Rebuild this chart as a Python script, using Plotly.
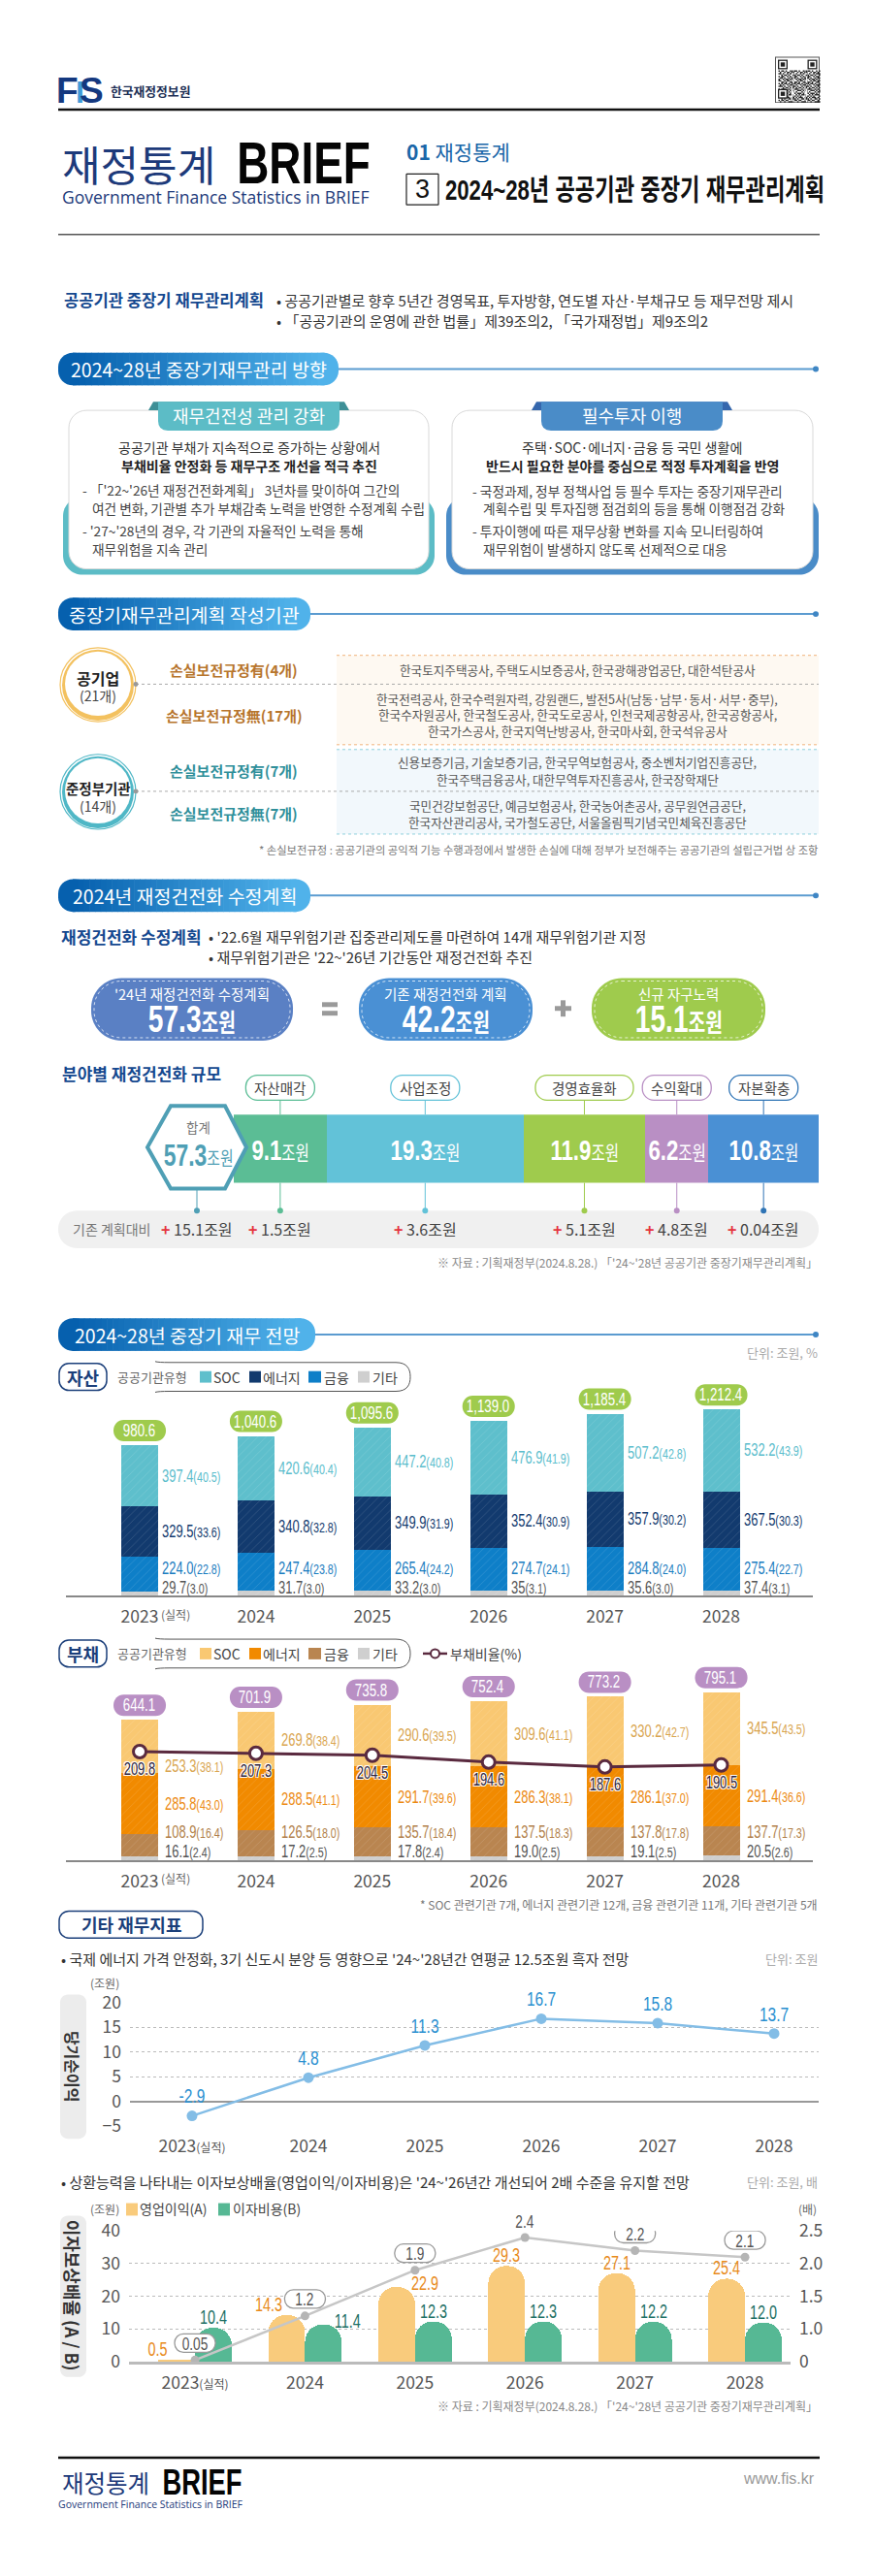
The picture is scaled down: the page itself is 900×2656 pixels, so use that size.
import plotly.graph_objects as go

# ---------- DATA ----------
years = ["2023", "2024", "2025", "2026", "2027", "2028"]

plan_names = ["자산매각", "사업조정", "경영효율화", "수익확대", "자본확충"]
plan_values = [9.1, 19.3, 11.9, 6.2, 10.8]
plan_total = 57.3
plan_changes = ["1.5", "3.6", "5.1", "4.8", "0.04"]

asset_total = [980.6, 1040.6, 1095.6, 1139.0, 1185.4, 1212.4]
asset_soc = [397.4, 420.6, 447.2, 476.9, 507.2, 532.2]
asset_soc_pct = [40.5, 40.4, 40.8, 41.9, 42.8, 43.9]
asset_energy = [329.5, 340.8, 349.9, 352.4, 357.9, 367.5]
asset_energy_pct = [33.6, 32.8, 31.9, 30.9, 30.2, 30.3]
asset_fin = [224.0, 247.4, 265.4, 274.7, 284.8, 275.4]
asset_fin_pct = [22.8, 23.8, 24.2, 24.1, 24.0, 22.7]
asset_etc = [29.7, 31.7, 33.2, 35, 35.6, 37.4]
asset_etc_pct = [3.0, 3.0, 3.0, 3.1, 3.0, 3.1]

debt_total = [644.1, 701.9, 735.8, 752.4, 773.2, 795.1]
debt_soc = [253.3, 269.8, 290.6, 309.6, 330.2, 345.5]
debt_soc_pct = [38.1, 38.4, 39.5, 41.1, 42.7, 43.5]
debt_energy = [285.8, 288.5, 291.7, 286.3, 286.1, 291.4]
debt_energy_pct = [43.0, 41.1, 39.6, 38.1, 37.0, 36.6]
debt_fin = [108.9, 126.5, 135.7, 137.5, 137.8, 137.7]
debt_fin_pct = [16.4, 18.0, 18.4, 18.3, 17.8, 17.3]
debt_etc = [16.1, 17.2, 17.8, 19.0, 19.1, 20.5]
debt_etc_pct = [2.4, 2.5, 2.4, 2.5, 2.5, 2.6]
debt_ratio = [209.8, 207.3, 204.5, 194.6, 187.6, 190.5]

net_income = [-2.9, 4.8, 11.3, 16.7, 15.8, 13.7]
op_income = [0.5, 14.3, 22.9, 29.3, 27.1, 25.4]
interest_cost = [10.4, 11.4, 12.3, 12.3, 12.2, 12.0]
coverage = [0.05, 1.2, 1.9, 2.4, 2.2, 2.1]
coverage_labels = ["0.05", "1.2", "1.9", "2.4", "2.2", "2.1"]

qr_rows = [
    "10110100101", "01001011010", "11010010111", "00101101001", "10110010110", "01101001011",
    "10010110100", "11001011011", "00110100110", "10101101001", "01010010111", "11101001010",
    "00010110101", "10111001010", "01001110101", "11010001011", "00101110100", "10010101110",
    "01101010001", "11010111010", "00101001101", "10110110010", "01001001111",
]

# ---------- STYLE ----------
KR = "Noto Sans CJK KR, Noto Sans, sans-serif"
# "Cond" is not a real font: it marks the texts that the page script squeezes horizontally
COND = "Cond, Liberation Sans, Noto Sans CJK KR, sans-serif"
COND_L = "Cond, Liberation Sans, sans-serif"
NAVY, BLUE = "#1b3f7a", "#14488f"
W, H = 900, 2656

shapes, ann = [], []
fig = go.Figure()


def T(text, x, y, size=13, color="#333", anchor="center", bold=False, font=KR, xref="x", yref="y",
      angle=0, xshift=0, yshift=0, shadow=None):
    f = dict(size=size, color=color, family=font, weight=700 if bold else 400)
    if shadow:
        f["shadow"] = shadow
    ann.append(dict(text=text, x=x, y=y, xref=xref, yref=yref, xanchor=anchor, yanchor="middle",
                    showarrow=False, font=f, borderpad=0, textangle=angle, xshift=xshift, yshift=yshift,
                    align=anchor if anchor != "center" else "center"))


def rr_path(x0, y0, x1, y1, r):
    k = r * 0.45
    return (f"M {x0+r} {y0} L {x1-r} {y0} C {x1-k} {y0} {x1} {y0+k if y1>y0 else y0-k} {x1} {y0+r if y1>y0 else y0-r} "
            f"L {x1} {y1-r if y1>y0 else y1+r} C {x1} {y1-k if y1>y0 else y1+k} {x1-k} {y1} {x1-r} {y1} "
            f"L {x0+r} {y1} C {x0+k} {y1} {x0} {y1-k if y1>y0 else y1+k} {x0} {y1-r if y1>y0 else y1+r} "
            f"L {x0} {y0+r if y1>y0 else y0-r} C {x0} {y0+k if y1>y0 else y0-k} {x0+k} {y0} {x0+r} {y0} Z")


def RR(x0, y0, x1, y1, r, fill="rgba(0,0,0,0)", line=None, width=1, dash=None, layer="below", **kw):
    s = dict(type="path", path=rr_path(x0, y0, x1, y1, r), fillcolor=fill, xref="x", yref="y", layer=layer,
             line=dict(color=line or "rgba(0,0,0,0)", width=width if line else 0, dash=dash or "solid"))
    s.update(kw)
    shapes.append(s)


def RECT(x0, y0, x1, y1, fill, layer="below"):
    shapes.append(dict(type="rect", x0=x0, y0=y0, x1=x1, y1=y1, xref="x", yref="y", fillcolor=fill,
                       line=dict(width=0), layer=layer))


def LINE(x0, y0, x1, y1, color, width=1, dash="solid", xref="x", yref="y", layer="below"):
    shapes.append(dict(type="line", x0=x0, y0=y0, x1=x1, y1=y1, xref=xref, yref=yref,
                       line=dict(color=color, width=width, dash=dash), layer=layer))


def DOT(cx, cy, r, color, xref="x", yref="y", layer="below"):
    shapes.append(dict(type="circle", x0=cx - r, x1=cx + r, y0=cy - r, y1=cy + r, xref=xref, yref=yref,
                       fillcolor=color, line=dict(width=0), layer=layer))


def ELL(x0, y0, x1, y1, fill, line=None, width=0):
    shapes.append(dict(type="circle", x0=x0, x1=x1, y0=y0, y1=y1, xref="x", yref="y", fillcolor=fill,
                       line=dict(color=line or "rgba(0,0,0,0)", width=width), layer="below"))


def section(x0, x1, y0, text):
    """Gradient title pill with its rule and end dot."""
    y1, r = y0 + 34, 15
    c0, c1 = (6, 96, 174), (80, 178, 234)
    n = 40
    LINE(x1, y0 + 17, 842, y0 + 17, "#5b9bd0", 2)
    DOT(841, y0 + 17, 3, "#3f86c4")
    RR(x0, y0, x0 + 2 * r + 2, y1, r, fill=f"rgb{c0}")
    RR(x1 - 2 * r - 2, y0, x1, y1, r, fill=f"rgb{c1}")
    step = (x1 - x0 - 2 * r) / n
    for i in range(n):
        t = i / (n - 1)
        col = tuple(round(a + (b - a) * t) for a, b in zip(c0, c1))
        RECT(x0 + r + i * step, y0, x0 + r + (i + 1) * step + 0.6, y1, f"rgb{col}")
    T(text, (x0 + x1) / 2, y0 + 17, 19.5, "white", bold=False)


# ---------- HEADER ----------
T("F", 69, 80, 37, "#14387f", bold=True, font="Liberation Sans, sans-serif")
T("I", 82, 82, 32, "#3f9bd8", bold=True, font="Liberation Sans, sans-serif")
T("S", 94, 80, 37, "#14387f", bold=True, font="Liberation Sans, sans-serif")
T("한국재정정보원", 155, 80, 12.8, "#1d2f55", bold=True)
# QR block
RECT(799, 45, 845, 93, "#555")
RECT(800, 46, 844, 92, "white")
qm = 1.5
qpath = ""
for j, row in enumerate(qr_rows):
    for rep in range(3):
        for i, ch in enumerate(row):
            if ch == "1":
                xx, yy = 802.5 + (i + rep * 9.3) * qm * 0.97, 59 + j * qm * 0.97
                qpath += f"M {xx} {yy} L {xx+qm} {yy} L {xx+qm} {yy+qm} L {xx} {yy+qm} Z "
shapes.append(dict(type="path", path=qpath, fillcolor="#222", line=dict(width=0), xref="x", yref="y", layer="below"))
for fx, fy in [(802, 48), (832.5, 48), (802, 78.5)]:
    RECT(fx, fy, fx + 10, fy + 10, "#222")
    RECT(fx + 1.3, fy + 1.3, fx + 8.7, fy + 8.7, "white")
    RECT(fx + 2.8, fy + 2.8, fx + 7.2, fy + 7.2, "#222")

LINE(60, 100, 845, 100, "#111", 2.5)
T("재정통계", 143, 155, 43, "#1d3a7a")
T("BRIEF", 313, 155, 62, "#050505", bold=True, font=COND_L)
T("Government Finance Statistics in BRIEF", 222, 191, 17.5, "#1d3a7a", font="Open Sans, sans-serif")
T("<b>01</b> 재정통계", 472, 143, 21, "#1a66a8")
RR(419, 167, 452, 199, 0.5, fill="white", line="#222", width=1.2)
T("3", 435.5, 183, 27, "#111", font="Liberation Sans, sans-serif")
T("2024~28년 공공기관 중장기 재무관리계획", 654.5, 183, 30, "#111", bold=True, font=COND)
LINE(60, 230, 845, 230, "#555", 1.5)

T("공공기관 중장기 재무관리계획", 169, 298, 16.6, BLUE, bold=True)
T("• 공공기관별로 향후 5년간 경영목표, 투자방향, 연도별 자산·부채규모 등 재무전망 제시", 284, 298, 15, "#333", anchor="left")
T("• 「공공기관의 운영에 관한 법률」제39조의2, 「국가재정법」제9조의2", 284, 320, 15, "#333", anchor="left")

# ---------- SECTION 1 ----------
section(60, 349, 353, "2024~28년 중장기재무관리 방향")
for x0, x1, col, dark, tab, flap, title, c_lines, body in [
    (65, 448, "#5cbcc6", "#4aa7ae", (163, 350), "#3d8f96", "재무건전성 관리 강화",
     ["공공기관 부채가 지속적으로 증가하는 상황에서", "부채비율 안정화 등 재무구조 개선을 적극 추진"],
     [(84, 496, "- 「'22~'26년 재정건전화계획」 3년차를 맞이하여 그간의"),
      (94, 515, "여건 변화, 기관별 추가 부채감축 노력을 반영한 수정계획 수립"),
      (84, 538, "- '27~'28년의 경우, 각 기관의 자율적인 노력을 통해"),
      (94, 557, "재무위험을 지속 관리")]),
    (460, 844, "#4a8cc8", "#3f7db8", (558, 745), "#3567ad", "필수투자 이행",
     ["주택·SOC·에너지·금융 등 국민 생활에", "반드시 필요한 분야를 중심으로 적정 투자계획을 반영"],
     [(486, 497, "- 국정과제, 정부 정책사업 등 필수 투자는 중장기재무관리"),
      (497, 515, "계획수립 및 투자집행 점검회의 등을 통해 이행점검 강화"),
      (486, 538, "- 투자이행에 따른 재무상황 변화를 지속 모니터링하여"),
      (497, 557, "재무위험이 발생하지 않도록 선제적으로 대응")]),
]:
    RR(x0, 503, x1, 584, 20, fill=col)
    RR(x0 + 6, 413, x1 - 6, 578, 18, fill="white", line="#d9d9d9", width=1)
    tx0, tx1 = tab
    shapes.append(dict(type="path", xref="x", yref="y", layer="below", fillcolor=flap, line=dict(width=0),
                       path=f"M {tx0-10} 413 L {tx0-5} 404 L {tx1+5} 404 L {tx1+10} 413 L {tx1} 413 L {tx0} 413 Z"))
    shapes.append(dict(type="path", xref="x", yref="y", layer="below", fillcolor=col, line=dict(width=0),
                       path=f"M {tx0} 404 L {tx1} 404 L {tx1} 424 Q {tx1} 434 {tx1-10} 434 L {tx0+10} 434 Q {tx0} 434 {tx0} 424 Z"))
    cx = (tx0 + tx1) / 2
    T(title, cx, 418, 18, "white")
    T(c_lines[0], cx, 451, 14, "#333")
    T(c_lines[1], cx, 470, 14, "#222", bold=True)
    for bx, by, txt in body:
        T(txt, bx, by, 13.7, "#444", anchor="left")

# ---------- SECTION 2 ----------
section(60, 320, 608, "중장기재무관리계획 작성기관")
RECT(347, 668, 844, 761, "#fef9f2")
RECT(347, 766, 844, 854, "#f2f8fc")
LINE(347, 668, 844, 668, "#f0b27a", 1, "dot")
LINE(347, 761, 844, 761, "#f0b27a", 1, "dot")
LINE(347, 766, 844, 766, "#8fd0dc", 1, "dot")
LINE(347, 854, 844, 854, "#8fd0dc", 1, "dot")
LINE(140, 698, 844, 698, "#aaa", 1, "dot")
LINE(140, 809.5, 844, 809.5, "#aaa", 1, "dot")
for y0, y1, col, title, sub, ts in [(660, 737, "#f3c15f", "공기업", "(21개)", 16), (771, 849, "#4fb7c6", "준정부기관", "(14개)", 14.5)]:
    ELL(62, y0, 140, y1, "white", col, 1.2)
    ELL(64, y0 + 2, 138, y1 - 1, col)
    ELL(67, y0 + 4, 135, y1 - 6, "white")
    T(title, 101, y0 + 32 if ts > 15 else y0 + 35, ts, "#222", bold=True)
    T(sub, 101, y0 + 50 if ts > 15 else y0 + 54, 14, "#444")
DOT(140, 698, 2.5, "#999")
DOT(140, 809.5, 2.5, "#999")
for y, t, col in [(683, "손실보전규정有(4개)", "#b7752d"), (730, "손실보전규정無(17개)", "#b7752d"),
                  (788, "손실보전규정有(7개)", "#2f8f9a"), (832, "손실보전규정無(7개)", "#2f8f9a")]:
    T(t, 241, y, 15, col, bold=True)
for y, t in [(683, "한국토지주택공사, 주택도시보증공사, 한국광해광업공단, 대한석탄공사"),
             (713, "한국전력공사, 한국수력원자력, 강원랜드, 발전5사(남동·남부·동서·서부·중부),"),
             (729.5, "한국수자원공사, 한국철도공사, 한국도로공사, 인천국제공항공사, 한국공항공사,"),
             (747, "한국가스공사, 한국지역난방공사, 한국마사회, 한국석유공사"),
             (779, "신용보증기금, 기술보증기금, 한국무역보험공사, 중소벤처기업진흥공단,"),
             (797, "한국주택금융공사, 대한무역투자진흥공사, 한국장학재단"),
             (824, "국민건강보험공단, 예금보험공사, 한국농어촌공사, 공무원연금공단,"),
             (841, "한국자산관리공사, 국가철도공단, 서울올림픽기념국민체육진흥공단")]:
    T(t, 595, y, 12.6, "#555")
T("* 손실보전규정 : 공공기관의 공익적 기능 수행과정에서 발생한 손실에 대해 정부가 보전해주는 공공기관의 설립근거법 상 조항",
  844, 870, 11.3, "#777", anchor="right")

# ---------- SECTION 3 ----------
section(60, 320, 901, "2024년 재정건전화 수정계획")
T("재정건전화 수정계획", 135, 961, 17, BLUE, bold=True)
T("• '22.6월 재무위험기관 집중관리제도를 마련하여 14개 재무위험기관 지정", 214, 961, 15, "#333", anchor="left")
T("• 재무위험기관은 '22~'26년 기간동안 재정건전화 추진", 214, 982, 15, "#333", anchor="left")
for x0, x1, col, head, val in [(94, 302, "#5a80c4", "'24년 재정건전화 수정계획", "57.3"),
                               (370, 549, "#4a90d4", "기존 재정건전화 계획", "42.2"),
                               (610, 789, "#9fcb4d", "신규 자구노력", "15.1")]:
    RR(x0, 1004, x1, 1069, 31, fill=col)
    RR(x0 + 3, 1007, x1 - 3, 1066, 28, line="rgba(255,255,255,.75)", width=1, dash="dot")
    c = (x0 + x1) / 2
    T(head, c, 1020, 14.5, "white")
    T(f"{val}<span style='font-size:26px'>조원</span>", c, 1047, 38, "white", bold=True, font=COND)
RECT(332, 1029, 348, 1034, "#9a9a9a")
RECT(332, 1038, 348, 1043, "#9a9a9a")
RECT(572, 1033, 589, 1038, "#9a9a9a")
RECT(578, 1027, 583, 1044, "#9a9a9a")

T("분야별 재정건전화 규모", 146, 1103, 17, BLUE, bold=True)
plan_colors = ["#5bbd95", "#62c2d8", "#9fcb4d", "#b98fc4", "#4a90d4"]
plan_edge = ["#5bbd95", "#62c2d8", "#9fcb4d", "#b98fc4", "#2f74b5"]
plan_pill = [71, 71, 101, 71, 71]
for n, v, c in zip(plan_names, plan_values, plan_colors):
    fig.add_trace(go.Bar(y=[0], x=[v], name=n, orientation="h", width=1, marker=dict(color=c, line=dict(width=0)),
                         xaxis="x2", yaxis="y2", hoverinfo="skip", showlegend=False))
RR(60, 1246, 844, 1285, 19, fill="#f0f0f0")
cum = 0
for n, v, c, e, w, ch in zip(plan_names, plan_values, plan_colors, plan_edge, plan_pill, plan_changes):
    mid = cum + v / 2
    cum += v
    LINE(mid, 1131, mid, 1146, e, 1, xref="x2")
    LINE(mid, 1217, mid, 1246, e, 1, xref="x2")
    DOT(0, 1246, 3, e, layer="above")
    shapes[-1].update(xref="x2", xsizemode="pixel", xanchor=mid, x0=-3, x1=3)
    RR(-w / 2, 1105, w / 2, 1131, 12, fill="white", line=e, width=1.3, xref="x2", xsizemode="pixel", xanchor=mid)
    T(n, mid, 1118, 14.5, "#444", xref="x2")
    T(f"{v}<span style='font-size:21px;font-weight:400'>조원</span>", mid, 1183, 30, "white", bold=True, xref="x2", font=COND)
    T(f"<span style='color:#e5343d'><b>+</b></span> {ch}조원", mid, 1265, 16, "#444", xref="x2")
LINE(203, 1224, 203, 1246, "#4f9fb5", 1)
DOT(203, 1246, 3, "#4f9fb5", layer="above")
shapes.append(dict(type="path", xref="x", yref="y", layer="above", fillcolor="white",
                   line=dict(color="#4f9fb5", width=4),
                   path="M 152 1180 L 176 1137 L 232 1137 L 254 1180 L 232 1223 L 176 1223 Z"))
T("합계", 204, 1159, 13.5, "#777")
T(f"{plan_total}<span style='font-size:20px;font-weight:400'>조원</span>", 204, 1189, 31, "#4f9fb5", bold=True, font=COND)
T("기존 계획대비", 115, 1265, 14, "#777")
T("<span style='color:#e5343d'><b>+</b></span> 15.1조원", 203, 1265, 16, "#444")
SRC = "※ 자료 : 기획재정부(2024.8.28.) 「'24~'28년 공공기관 중장기재무관리계획」"
T(SRC, 844, 1300, 12, "#888", anchor="right")

# ---------- SECTION 4 ----------
section(60, 325, 1358, "2024~28년 중장기 재무 전망")
T("단위: 조원, %", 844, 1394, 13, "#aaa", anchor="right")


def legend_row(yc, badge, colors):
    RR(61, yc - 14, 110, yc + 14, 10, fill="white", line=NAVY, width=1.5)
    T(badge, 85.5, yc, 18, NAVY, bold=True)
    shapes.append(dict(type="path", xref="x", yref="y", layer="below", fillcolor="rgba(0,0,0,0)",
                       line=dict(color="#555", width=1),
                       path=f"M 160 {yc-16} Q 163 {yc-15} 175 {yc-15} L 408 {yc-15} C 420 {yc-15} 423 {yc-8} 423 {yc} "
                            f"C 423 {yc+8} 420 {yc+15} 408 {yc+15} L 175 {yc+15} Q 163 {yc+15} 160 {yc+16}"))
    T("공공기관유형", 157, yc, 13, "#666")
    for sx, sw, tx, name, col in zip([206, 257, 318, 369], [12, 12, 13, 12], [233.5, 290, 346.5, 397],
                                     ["SOC", "에너지", "금융", "기타"], colors):
        RECT(sx, yc - 6, sx + sw, yc + 6, col)
        T(name, tx, yc, 14, "#444")


def stacked(series, pcts, colors, lab_colors, xa, ya, totals, pill_col, xshift, px_per_unit, label_shift):
    for vals, col in zip(series, colors):
        fig.add_trace(go.Bar(x=list(range(6)), y=vals, width=0.317, xaxis=xa, yaxis=ya, showlegend=False, hoverinfo="skip",
                             marker=dict(color=col, line=dict(width=0),
                                         pattern=dict(shape="/", fgcolor="rgba(255,255,255,.32)", bgcolor=col, size=6, solidity=0.12))))
    # lowest two labels keep a minimum height above the axis so that they never collide
    floors = [9, 29, 0, 0]
    for i in range(6):
        base = 0
        for k, (vals, ps, lc) in enumerate(zip(series, pcts, lab_colors)):
            v = vals[i]
            mid = base + v / 2
            base += v
            ys = max(0, floors[k] - mid * px_per_unit) + label_shift.get((k, i), 0)
            T(f"{v}<span style='font-size:14.5px'>({ps[i]})</span>", i + 0.1585, mid, 17.5, lc, anchor="left",
              font=COND, xref=xa, yref=ya, xshift=xshift, yshift=ys)
        RR(-27, 4, 27, 26, 10.5, fill=pill_col, xref=xa, yref=ya, xsizemode="pixel", ysizemode="pixel",
           xanchor=i, yanchor=base, layer="above")
        T(f"{totals[i]:,.1f}", i, base, 18, "white", font=COND, xref=xa, yref=ya, yshift=15, xshift=-1)


legend_row(1419, "자산", ["#5ebfcc", "#123a6e", "#0e7fc8", "#cfcfcf"])
stacked([asset_etc, asset_fin, asset_energy, asset_soc],
        [asset_etc_pct, asset_fin_pct, asset_energy_pct, asset_soc_pct],
        ["#cfcfcf", "#0e7fc8", "#123a6e", "#5ebfcc"], ["#555", "#1a7cc0", "#123a6e", "#5bbdcc"],
        "x3", "y3", asset_total, "#9fcb4d", 3, 0.16, {})
T("(실적)", 181, 1666, 12, "#666")

legend_row(1707, "부채", ["#f9c872", "#f18a00", "#b98550", "#cfcfcf"])
LINE(436, 1707, 461, 1707, "#5a2a3f", 2.5)
shapes.append(dict(type="circle", x0=444, x1=453, y0=1702.5, y1=1711.5, xref="x", yref="y", fillcolor="white",
                   line=dict(color="#5a2a3f", width=2), layer="below"))
T("부채비율(%)", 501, 1707, 14, "#444")
stacked([debt_etc, debt_fin, debt_energy, debt_soc],
        [debt_etc_pct, debt_fin_pct, debt_energy_pct, debt_soc_pct],
        ["#cfcfcf", "#b98550", "#f18a00", "#f9c872"], ["#555", "#b17f4a", "#ec8a12", "#d9a550"],
        "x4", "y4", debt_total, "#b98fc4", 6, 0.22, {(3, 0): -20})
fig.add_trace(go.Scatter(x=list(range(6)), y=debt_ratio, xaxis="x4", yaxis="y5", mode="lines+markers", showlegend=False,
                         hoverinfo="skip", cliponaxis=False, line=dict(color="#5a2a3f", width=3),
                         marker=dict(size=13, color="white", line=dict(color="#5a2a3f", width=3))))
WS = "-1px -1px 0 #fff, 1px -1px 0 #fff, -1px 1px 0 #fff, 1px 1px 0 #fff"
for i, r in enumerate(debt_ratio):
    T(f"{r}", i, r, 17.5, "#2d2440", font=COND, xref="x4", yref="y5", yshift=-18, shadow=WS)
T("(실적)", 181, 1941, 12, "#666")
T("* SOC 관련기관 7개, 에너지 관련기관 12개, 금융 관련기관 11개, 기타 관련기관 5개", 844, 1968, 12, "#777", anchor="right")

RR(61, 1975, 209, 2003, 10, fill="white", line=NAVY, width=1.5)
T("기타 재무지표", 135, 1989, 18, NAVY, bold=True)

# net income
T("• 국제 에너지 가격 안정화, 3기 신도시 분양 등 영향으로 '24~'28년간 연평균 12.5조원 흑자 전망", 62, 2025, 15, "#333", anchor="left")
T("단위: 조원", 844, 2025, 13, "#aaa", anchor="right")
T("(조원)", 108, 2050, 12, "#666")
RR(62, 2062, 89, 2212, 8, fill="#ececec")
T("당기순이익", 75, 2137, 16, "#333", bold=True, angle=90)
fig.add_trace(go.Scatter(x=list(range(6)), y=net_income, xaxis="x5", yaxis="y6", mode="lines+markers+text", showlegend=False,
                         hoverinfo="skip", cliponaxis=False, line=dict(color="#83bde6", width=2.5),
                         marker=dict(size=11, color="#83bde6"), text=[f"{v}" for v in net_income], textposition="top center",
                         textfont=dict(size=21, color="#2a8fd0", family=COND)))

# coverage
T("• 상환능력을 나타내는 이자보상배율(영업이익/이자비용)은 '24~'26년간 개선되어 2배 수준을 유지할 전망", 62, 2257, 15, "#333", anchor="left")
T("단위: 조원, 배", 844, 2257, 13, "#aaa", anchor="right")
T("(조원)", 108, 2285, 12, "#666")
T("(배)", 832, 2285, 12, "#666")
RECT(130, 2279, 142, 2292, "#f9cb7c")
T("영업이익(A)", 179, 2285, 14, "#444")
RECT(225, 2279, 237, 2292, "#56b894")
T("이자비용(B)", 275, 2285, 14, "#444")
RR(62, 2292, 89, 2460, 8, fill="#ececec")
T("이자보상배율 (A / B)", 75, 2375, 18, "#333", bold=True, angle=90)

bw = 0.334
fig.add_trace(go.Bar(x=[i - bw / 2 for i in range(6)], y=op_income, width=bw, xaxis="x6", yaxis="y7", showlegend=False,
                     hoverinfo="skip", marker=dict(color="#f9cb7c", cornerradius=18, line=dict(width=0))))
fig.add_trace(go.Bar(x=[i + bw / 2 for i in range(6)], y=interest_cost, width=bw, xaxis="x6", yaxis="y7", showlegend=False,
                     hoverinfo="skip", marker=dict(color="#56b894", cornerradius=18, line=dict(width=0))))
# the right-hand scale is broken below 1.0: 0 sits where 0.5 would be, so values under 1 are compressed
coverage_plot = [v if v >= 1 else 0.5 + v / 2 for v in coverage]
fig.add_trace(go.Scatter(x=list(range(6)), y=coverage_plot, xaxis="x6", yaxis="y8", mode="lines+markers", showlegend=False,
                         hoverinfo="skip", cliponaxis=False, line=dict(color="#c6c6c6", width=2.5),
                         marker=dict(size=9, color="#b5b5b5")))
op_shift = {0: (-20, 11), 1: (-19, 11), 2: (29, 4)}
int_shift = {1: (25, 4)}
for i in range(6):
    sx, sy = op_shift.get(i, (0, 11))
    T(f"{op_income[i]}", i - bw / 2, op_income[i], 19.5, "#e88a1a", font=COND, xref="x6", yref="y7", xshift=sx, yshift=sy)
    sx, sy = int_shift.get(i, (0, 11))
    T(f"{interest_cost[i]}", i + bw / 2, interest_cost[i], 19.5, "#1c6f64", font=COND, xref="x6", yref="y7", xshift=sx, yshift=sy)
    RR(-21, 8, 21, 27, 9, fill="white", line="#999", width=1.3, xref="x6", yref="y8", xsizemode="pixel", ysizemode="pixel",
       xanchor=i, yanchor=coverage_plot[i], layer="above")
    T(coverage_labels[i], i, coverage_plot[i], 18.5, "#555", font=COND, xref="x6", yref="y8", yshift=17)
T(SRC, 844, 2490, 12, "#888", anchor="right")

# ---------- FOOTER ----------
LINE(60, 2544, 845, 2544, "#111", 2.5)
T("재정통계", 109, 2570, 24.5, "#1d3a7a")
T("BRIEF", 208, 2570, 37, "#050505", bold=True, font=COND_L)
T("Government Finance Statistics in BRIEF", 155, 2592, 10.5, "#1d3a7a", font="Open Sans, sans-serif")
T("www.fis.kr", 841, 2566, 16, "#999", anchor="right", font="Liberation Sans, sans-serif")


# ---------- AXES ----------
def dx(a, b):
    return [a / W, b / W]


def dy(top, bottom):
    return [1 - bottom / H, 1 - top / H]


hidden = dict(visible=False, fixedrange=True)
TICK = dict(size=17.5, color="#555", family=KR)
tx = dict(tickmode="array", tickvals=list(range(6)), ticktext=years, tickfont=TICK, ticks="", showgrid=False,
          zeroline=False, fixedrange=True)
xl = dict(showline=True, linecolor="#888", linewidth=1.5, ticklabelstandoff=5)
span = "<span style='font-size:12px'>(실적)</span>"
yrs2 = [years[0] + span] + years[1:]

fig.update_layout(
    width=W, height=H, autosize=False, margin=dict(l=0, r=0, t=0, b=0), paper_bgcolor="white",
    plot_bgcolor="rgba(0,0,0,0)", barmode="stack", showlegend=False, shapes=shapes, annotations=ann,
    font=dict(family=KR),
    xaxis=dict(domain=[0, 1], range=[0, W], **hidden),
    yaxis=dict(domain=[0, 1], range=[H, 0], **hidden),
    xaxis2=dict(domain=dx(241, 844), range=[0, plan_total], anchor="y2", **hidden),
    yaxis2=dict(domain=dy(1146, 1217), range=[-0.5, 0.5], anchor="x2", **hidden),
    xaxis3=dict(domain=dx(68, 838), range=[-0.634, 5.788], anchor="y3", **tx, **xl),
    yaxis3=dict(domain=dy(1407, 1647), range=[0, 1500], anchor="x3", **hidden),
    xaxis4=dict(domain=dx(68, 838), range=[-0.634, 5.788], anchor="y4", **tx, **xl),
    yaxis4=dict(domain=dy(1702, 1922), range=[0, 1000], anchor="x4", **hidden),
    yaxis5=dict(domain=dy(1702, 1922), range=[52.9, 358.4], overlaying="y4", anchor="x4", **hidden),
    xaxis5=dict(domain=dx(134, 844), range=[-0.533, 5.383], anchor="y6", ticklabelstandoff=8,
                **{**tx, "ticktext": yrs2}),
    yaxis6=dict(domain=dy(2070, 2199), range=[-5, 20], anchor="x5", tickvals=[-5, 0, 5, 10, 15, 20], tickfont=TICK,
                showgrid=True, gridcolor="#bbb", griddash="dot", gridwidth=1, zeroline=True, zerolinecolor="#999",
                zerolinewidth=1.5, ticks="", ticklabelstandoff=8, fixedrange=True),
    xaxis6=dict(domain=dx(133, 815), range=[-0.6, 5.414], anchor="y7", showline=True, linecolor="#bbb", linewidth=3,
                ticklabelstandoff=4, **{**tx, "ticktext": yrs2}),
    yaxis7=dict(domain=dy(2308, 2444), range=[0, 40], anchor="x6", tickvals=[0, 10, 20, 30, 40], tickfont=TICK,
                showgrid=True, gridcolor="#bbb", griddash="dot", gridwidth=1, zeroline=False, ticks="",
                ticklabelstandoff=8, fixedrange=True),
    yaxis8=dict(domain=dy(2308, 2444), range=[0.5, 2.5], overlaying="y7", side="right", anchor="x6",
                tickmode="array", tickvals=[0.5, 1, 1.5, 2, 2.5], ticktext=["0", "1.0", "1.5", "2.0", "2.5"],
                tickfont=TICK, showgrid=False, zeroline=False, ticks="", ticklabelstandoff=8, fixedrange=True),
)
# body margin would shift the page by 8px; "Cond" texts are squeezed around their anchor as in the reference's tall lettering
POST = """
document.body.style.margin='0';
document.querySelectorAll('svg text').forEach(function(t){
  if((t.style.fontFamily||'').indexOf('Cond')<0) return;
  var ax=parseFloat(t.getAttribute('x'))||0;
  var old=t.getAttribute('transform')||'';
  t.setAttribute('transform',old+' translate('+ax+',0) scale(0.74,1) translate('+(-ax)+',0)');
});
"""
fig.write_html("out.html", post_script=POST, config=dict(displayModeBar=False))
